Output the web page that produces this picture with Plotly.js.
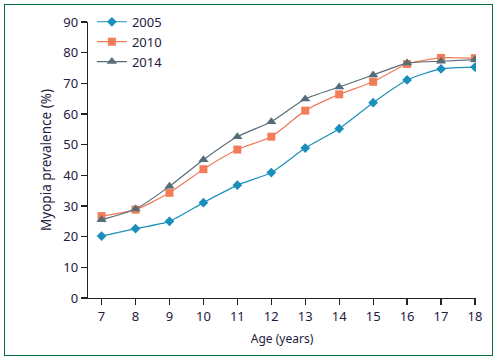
<!DOCTYPE html>
<html>
<head>
<meta charset="utf-8">
<script src="https://cdn.plot.ly/plotly-3.0.1.min.js"></script>
<style>
html,body{margin:0;padding:0;background:#fff;}
#wrap{position:relative;width:502px;height:362px;}
#frame{position:absolute;left:4px;top:4px;width:489px;height:352px;border:1px solid #0a6b3a;box-sizing:border-box;pointer-events:none;z-index:5;}
#chart{position:absolute;left:0;top:0;width:502px;height:362px;}
</style>
</head>
<body>
<div id="wrap"><div id="chart"></div><div id="frame"></div></div>
<script>
const ages = [7, 8, 9, 10, 11, 12, 13, 14, 15, 16, 17, 18];
const seriesNames = ["2005", "2010", "2014"];
const prev2005 = [20.2, 22.6, 25.0, 31.1, 36.8, 40.9, 48.9, 55.2, 63.7, 71.1, 74.7, 75.3];
const prev2010 = [26.7, 28.8, 34.3, 42.0, 48.4, 52.6, 61.1, 66.4, 70.5, 76.3, 78.3, 78.2];
const prev2014 = [25.5, 29.0, 36.4, 45.1, 52.6, 57.5, 64.9, 68.8, 72.7, 76.6, 77.2, 77.7];
const yTicks = [0, 10, 20, 30, 40, 50, 60, 70, 80, 90];

const textColor = "#1f2041";
const font = "'Noto Sans', 'Open Sans', sans-serif";

const traces = [
  {x: ages, y: prev2005, name: seriesNames[0], mode: "lines+markers",
   line: {color: "#1a8fbb", width: 1.2, shape: "spline", smoothing: 0.6},
   marker: {symbol: "diamond", size: 7.5, color: "#1a8fbb"}},
  {x: ages, y: prev2010, name: seriesNames[1], mode: "lines+markers",
   line: {color: "#f07c58", width: 1.2, shape: "spline", smoothing: 0.6},
   marker: {symbol: "square", size: 8, color: "#f07c58"}},
  {x: ages, y: prev2014, name: seriesNames[2], mode: "lines+markers",
   line: {color: "#566d78", width: 1.2, shape: "spline", smoothing: 0.6},
   marker: {symbol: "triangle-up", size: 9, color: "#566d78"}}
];

const layout = {
  width: 502, height: 362,
  margin: {l: 88, r: 26, t: 22, b: 64, autoexpand: false},
  paper_bgcolor: "#ffffff", plot_bgcolor: "#ffffff",
  font: {family: font, size: 12, color: textColor},
  showlegend: true,
  legend: {x: 0.01, y: 1.055, xanchor: "left", yanchor: "top", bgcolor: "rgba(0,0,0,0)",
           font: {family: font, size: 13, color: textColor}, tracegroupgap: 0},
  xaxis: {
    range: [6.6, 18.03], tickvals: ages, ticktext: ages.map(String),
    showgrid: false, zeroline: false, showline: true, linecolor: "#222", linewidth: 1.2,
    ticks: "outside", ticklen: 6, tickcolor: "#222", tickwidth: 1.2,
    tickfont: {family: font, size: 13, color: textColor},
    title: {text: "Age (years)", font: {family: font, size: 12, color: textColor}, standoff: 10}
  },
  yaxis: {
    range: [0, 90], tickvals: yTicks, ticktext: yTicks.map(String),
    showgrid: false, zeroline: false, showline: true, linecolor: "#222", linewidth: 1.2,
    ticks: "outside", ticklen: 6, tickcolor: "#222", tickwidth: 1.2,
    tickfont: {family: font, size: 13, color: textColor},
    title: {text: "Myopia prevalence (%)", font: {family: font, size: 13.5, color: textColor}, standoff: 8}
  }
};

Plotly.newPlot("chart", traces, layout, {displayModeBar: false, staticPlot: true});
</script>
</body>
</html>
